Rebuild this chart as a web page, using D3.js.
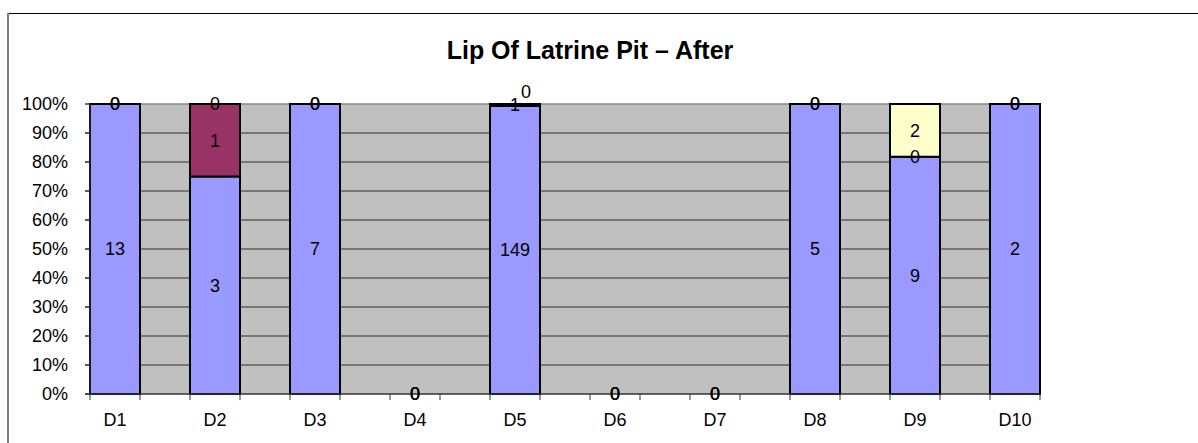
<!DOCTYPE html>
<html>
<head>
<meta charset="utf-8">
<script src="https://cdn.jsdelivr.net/npm/d3@7"></script>
<style>
  body { margin: 0; background: #fff; }
  text { font-family: "Liberation Sans", Arial, sans-serif; }
</style>
</head>
<body>
<svg id="chart" width="1198" height="443"></svg>
<script>
// chart data
var categories = ["D1", "D2", "D3", "D4", "D5", "D6", "D7", "D8", "D9", "D10"];
var seriesNames = ["s1", "s2", "s3"];
var s1 = [13, 3, 7, 0, 149, 0, 0, 5, 9, 2];
var s2 = [0, 1, 0, 0, 1, 0, 0, 0, 0, 0];
var s3 = [0, 0, 0, 0, 0, 0, 0, 0, 2, 0];
var colors = ["#9999FF", "#993366", "#FFFFCC"];
var yTicks = [0, 0.1, 0.2, 0.3, 0.4, 0.5, 0.6, 0.7, 0.8, 0.9, 1];
var title = "Lip Of Latrine Pit \u2013 After";

var svg = d3.select("#chart");

// outer chart border (only top / left visible in the window)
svg.append("line").attr("x1", 7).attr("x2", 1198).attr("y1", 13.5).attr("y2", 13.5)
  .attr("stroke", "#000").attr("stroke-width", 1.2);
svg.append("line").attr("x1", 8).attr("x2", 8).attr("y1", 13).attr("y2", 443)
  .attr("stroke", "#808080").attr("stroke-width", 2);

svg.append("text")
  .attr("x", 590).attr("y", 59)
  .attr("text-anchor", "middle")
  .attr("font-size", 25).attr("font-weight", "bold")
  .text(title);

var x = d3.scaleBand().domain(categories).range([90, 1090]).padding(0);
var barW = x.bandwidth() / 2;
var y = d3.scaleLinear().domain([0, 1]).range([394, 104]);
var plotRight = x("D10") + barW;

// plot background
svg.append("rect")
  .attr("x", 90).attr("y", y(1))
  .attr("width", plotRight - 90).attr("height", y(0) - y(1))
  .attr("fill", "#C0C0C0");

// gridlines
svg.append("g").selectAll("line")
  .data(yTicks.filter(function (t) { return t > 0; }))
  .enter().append("line")
  .attr("x1", 85).attr("x2", plotRight)
  .attr("y1", function (t) { return y(t); })
  .attr("y2", function (t) { return y(t); })
  .attr("stroke", function (t) { return t == 1 ? "#8a8a8a" : "#5f5f5f"; })
  .attr("stroke-width", 1.5);

// y axis labels
svg.append("g").selectAll("text")
  .data(yTicks)
  .enter().append("text")
  .attr("x", 68)
  .attr("y", function (t) { return y(t); })
  .attr("dy", "0.35em")
  .attr("text-anchor", "end")
  .attr("font-size", 18)
  .text(function (t) { return d3.format(".0%")(t); });

// stack data as 100%
var table = categories.map(function (c, i) {
  var total = s1[i] + s2[i] + s3[i];
  return { cat: c, s1: s1[i], s2: s2[i], s3: s3[i], total: total };
});
var stack = d3.stack().keys(seriesNames)
  .value(function (d, key) { return d.total ? d[key] / d.total : 0; });
var layers = stack(table);

// bars
var gBars = svg.append("g");
layers.forEach(function (layer, k) {
  gBars.selectAll(".bar" + k)
    .data(layer.filter(function (d) { return d[1] - d[0] > 0; }))
    .enter().append("rect")
    .attr("x", function (d) { return x(d.data.cat); })
    .attr("y", function (d) { return y(d[1]); })
    .attr("width", barW)
    .attr("height", function (d) { return y(d[0]) - y(d[1]); })
    .attr("fill", colors[k])
    .attr("stroke", "#000")
    .attr("stroke-width", 2);
});

// axes lines
svg.append("line").attr("x1", 85).attr("x2", plotRight).attr("y1", y(0)).attr("y2", y(0))
  .attr("stroke", "#333").attr("stroke-width", 1.5);
svg.append("line").attr("x1", 90).attr("x2", 90).attr("y1", y(1)).attr("y2", y(0))
  .attr("stroke", "#333").attr("stroke-width", 1);
svg.append("g").selectAll("line")
  .data(yTicks)
  .enter().append("line")
  .attr("x1", 85).attr("x2", 90)
  .attr("y1", function (t) { return y(t); })
  .attr("y2", function (t) { return y(t); })
  .attr("stroke", "#333");

var xTickPos = [];
categories.forEach(function (c) { xTickPos.push(x(c)); xTickPos.push(x(c) + barW); });
svg.append("g").selectAll("line")
  .data(xTickPos)
  .enter().append("line")
  .attr("x1", function (p) { return p; }).attr("x2", function (p) { return p; })
  .attr("y1", y(0)).attr("y2", y(0) + 6)
  .attr("stroke", "#333");

svg.append("g").selectAll("text")
  .data(categories)
  .enter().append("text")
  .attr("x", function (c) { return x(c) + barW / 2; })
  .attr("y", 426)
  .attr("text-anchor", "middle")
  .attr("font-size", 18)
  .text(function (c) { return c; });

// data labels
var gLab = svg.append("g");
categories.forEach(function (c, i) {
  var prev = null;
  layers.forEach(function (layer, k) {
    var d = layer[i];
    var val = d.data[seriesNames[k]];
    var lx = x(c) + barW / 2;
    var ly = y((d[0] + d[1]) / 2);
    // nudge a label that would sit on top of a different one
    if (prev && Math.abs(prev.y - ly) < 8 && prev.v != val) {
      lx += 11; ly -= 12;
    }
    gLab.append("text")
      .attr("x", lx).attr("y", ly)
      .attr("dy", "0.35em")
      .attr("text-anchor", "middle")
      .attr("font-size", 18)
      .text(val);
    prev = { y: ly, v: val };
  });
});
</script>
</body>
</html>
